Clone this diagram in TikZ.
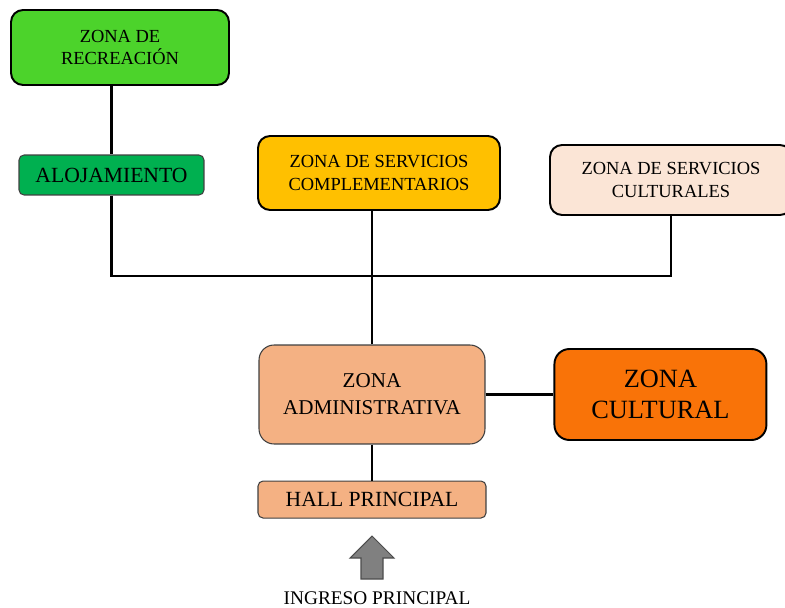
\documentclass[tikz,border=0pt]{standalone}
\usepackage{fontspec}
\setmainfont{Liberation Serif}
\usetikzlibrary{positioning}

\definecolor{recgreen}{RGB}{76,211,43}
\definecolor{alojgreen}{RGB}{0,176,80}
\definecolor{complyellow}{RGB}{255,192,0}
\definecolor{servpeach}{RGB}{251,229,214}
\definecolor{adminsalmon}{RGB}{244,177,131}
\definecolor{cultorange}{RGB}{249,115,8}
\definecolor{arrowgray}{RGB}{128,128,128}

\begin{document}
\begin{tikzpicture}[x=0.02cm, y=-0.02cm,
      zone/.style={rectangle, draw=black, line width=1.1pt, rounded corners=0.24cm,
        align=center, inner sep=0pt, font=\fontsize{10.5}{12.8}\selectfont},
      sub/.style={rectangle, draw=black!75, line width=0.6pt, rounded corners=0.1cm,
        align=center, inner sep=0pt, font=\fontsize{12.3}{14}\selectfont},
      link/.style={line width=1.6pt, draw=black},
      entryarr/.style={fill=arrowgray, draw=black!70, line width=0.6pt}
    ]
    \useasboundingbox (0,0) rectangle (785,608);

    % --- upper zones ---
    \node[zone, fill=recgreen, minimum width=4.36cm, minimum height=1.5cm] (rec) at (120,47.5) {ZONA DE\\RECREACIÓN};
    \node[sub, fill=alojgreen, minimum width=3.7cm, minimum height=0.8cm] (aloj) at (111.5,175) {ALOJAMIENTO};
    \node[zone, fill=complyellow, minimum width=4.84cm, minimum height=1.48cm] (compl) at (379,173) {ZONA DE SERVICIOS\\COMPLEMENTARIOS};
    \node[zone, fill=servpeach, minimum width=4.84cm, minimum height=1.4cm] (serv) at (671,180) {ZONA DE SERVICIOS\\CULTURALES};

    % --- administration and access ---
    \node[sub, fill=adminsalmon, rounded corners=0.3cm, minimum width=4.52cm, minimum height=1.98cm,
      font=\fontsize{12}{15.5}\selectfont] (admin) at (372,394.5) {ZONA\\ADMINISTRATIVA};
    \node[zone, fill=cultorange, rounded corners=0.3cm, minimum width=4.24cm, minimum height=1.82cm,
      font=\fontsize{15}{18}\selectfont, right=1.36cm of admin] (cult) {ZONA\\CULTURAL};
    \node[sub, fill=adminsalmon, minimum width=4.56cm, minimum height=0.74cm,
      below=0.72cm of admin] (hall) {HALL PRINCIPAL};
    \node[font=\fontsize{11}{13}\selectfont, inner sep=0pt] (ingreso) at (377,598) {INGRESO PRINCIPAL};

    \coordinate (bus) at (0,276);
    \coordinate (entry) at (372,579);

    \draw[link] (rec.south -| aloj.north) -- (aloj.north);
    \draw[link] (aloj.south) |- (bus -| serv.south) -- (serv.south);
    \draw[link] (admin.north) -- (admin.north |- compl.south);
    \draw[link] (admin.east) -- (cult.west);
    \draw[link] (admin.south) -- (hall.north);

    % entrance arrow
    \draw[entryarr] (entry) ++(-11,0) -- ++(0,-21) -- ++(-11,0) -- ++(22,-22)
      -- ++(22,22) -- ++(-11,0) -- ++(0,21) -- cycle;
  \end{tikzpicture}
\end{document}
